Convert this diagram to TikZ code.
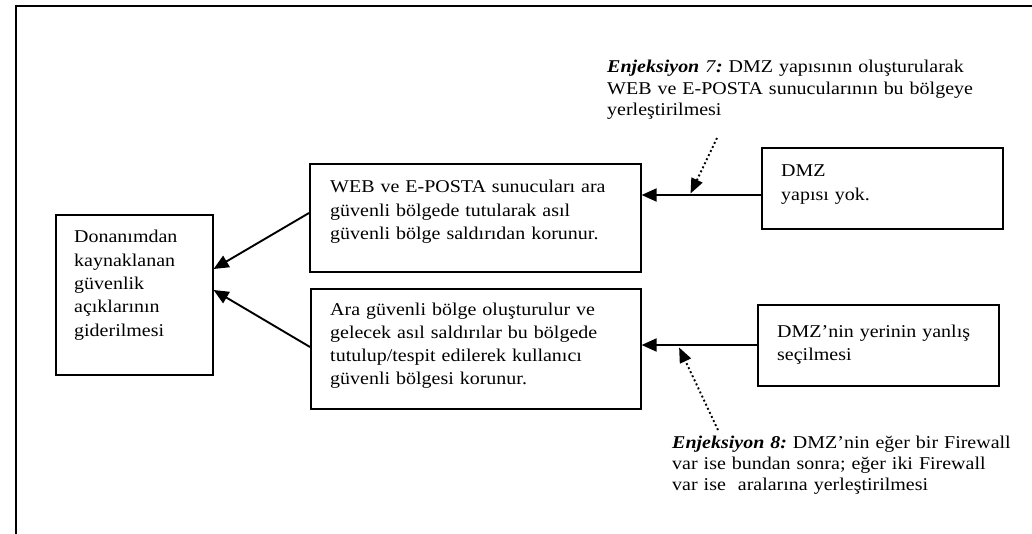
\documentclass[tikz,border=0pt]{standalone}
\usepackage{fontspec}
\setmainfont{Liberation Serif}[FakeStretch=1.11]
\usetikzlibrary{arrows.meta,calc}

\begin{document}
\frenchspacing
\begin{tikzpicture}[x=1pt,y=-1pt,
  frame/.style={line width=1.8pt},
  box/.style={draw,line width=1.6pt,inner sep=0pt,anchor=north west},
  txt/.style={inner sep=0pt,anchor=base west,align=left,text width=420pt,
    font=\fontsize{18}{23.3}\selectfont},
  note/.style={txt,font=\fontsize{18}{21.3}\selectfont},
  arr/.style={line width=1.9pt,-{Triangle[length=15pt,width=13pt]}},
  hint/.style={line width=1.9pt,dash pattern=on 1.9pt off 2.6pt,
    -{Triangle[length=15pt,width=12pt]}}]

\useasboundingbox (0,0) rectangle (1032,534);

% outer frame: top and left edges only
\draw[frame] (16,534) -- (16,6) -- (1032,6);

% boxes
\node[box,minimum width=157pt,minimum height=160pt] (goal) at (55,214) {};
\node[box,minimum width=331pt,minimum height=108pt] (webzone) at (309,163) {};
\node[box,minimum width=330pt,minimum height=120pt] (arazone) at (310,288) {};
\node[box,minimum width=241pt,minimum height=81pt] (nodmz) at (761,147) {};
\node[box,minimum width=241pt,minimum height=81pt] (wrongdmz) at (757,304) {};

% box texts
\node[txt] (goaltext) at ($(goal.north west)+(19,29)$)
  {Donanımdan\\kaynaklanan\\güvenlik\\açıklarının\\giderilmesi};
\node[txt] (webtext) at ($(webzone.north west)+(21,30)$)
  {WEB ve E-POSTA sunucuları ara\\güvenli bölgede tutularak asıl\\güvenli bölge saldırıdan korunur.};
\node[txt] (aratext) at ($(arazone.north west)+(20,27)$)
  {Ara güvenli bölge oluşturulur ve\\gelecek asıl saldırılar bu bölgede\\tutulup/tespit edilerek kullanıcı\\güvenli bölgesi korunur.};
\node[txt] (nodmztext) at ($(nodmz.north west)+(20,30)$)
  {DMZ\\yapısı yok.};
\node[txt] (wrongtext) at ($(wrongdmz.north west)+(20,33)$)
  {DMZ’nin yerinin yanlış\\seçilmesi};

% injection notes
\node[note] (inj7) at (607,73)
  {\textbf{\textit{Enjeksiyon}} \textit{7}\textbf{\textit{:}} DMZ yapısının oluşturularak\\WEB ve E-POSTA sunucularının bu bölgeye\\yerleştirilmesi};
\node[note] (inj8) at (672,448)
  {\textbf{\textit{Enjeksiyon 8:}} DMZ’nin eğer bir Firewall\\var ise bundan sonra; eğer iki Firewall\\var ise\ \ aralarına yerleştirilmesi};

% main connectors
\coordinate (a1s) at (nodmz.west |- 0,195);
\coordinate (a1e) at (webzone.east |- 0,195);
\coordinate (a2s) at (wrongdmz.west |- 0,345);
\coordinate (a2e) at (arazone.east |- 0,345);
\draw[arr] (a1s) -- (a1e);
\draw[arr] (a2s) -- (a2e);
\draw[arr] (webzone.west |- 0,213) -- (goal.east |- 0,269);
\draw[arr] (arazone.west |- 0,347) -- (goal.east |- 0,290);

% injection pointers
\coordinate (p7) at (717,138);
\coordinate (p8) at (718,430);
\draw[hint] (p7) -- ($(a1e)!0.41!(a1s)+(0,-1.5)$);
\draw[hint] (p8) -- ($(a2e)!0.325!(a2s)+(0,2.5)$);
\end{tikzpicture}
\end{document}
